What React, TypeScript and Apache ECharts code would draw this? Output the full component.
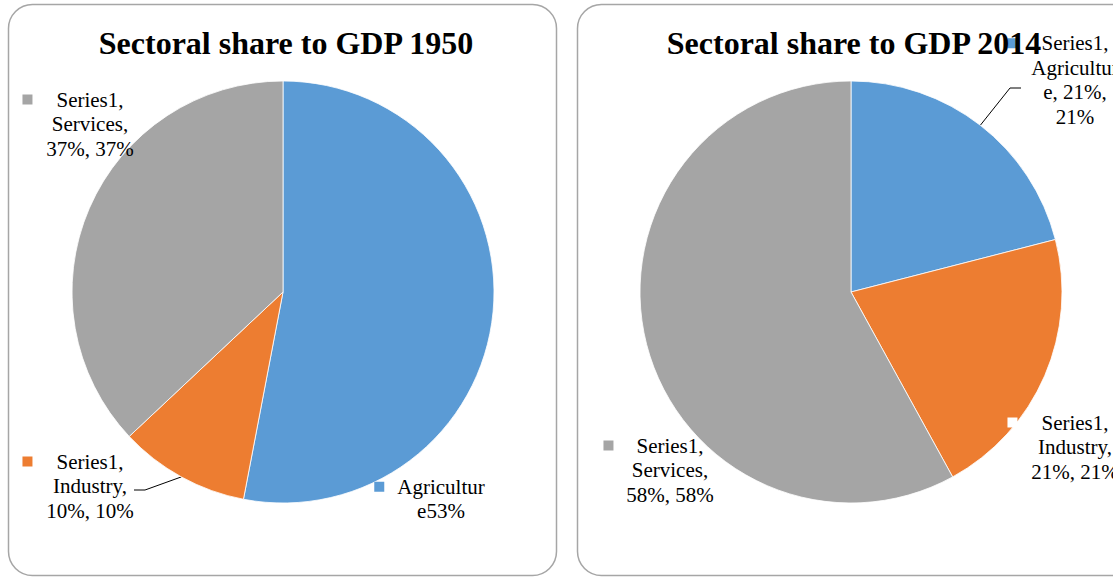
import React, { useEffect, useRef } from "react";
import * as echarts from "echarts";

// ---- data ----
const categories = ["Agriculture", "Industry", "Services"];
const years = ["1950", "2014"];
const share1950 = [53, 10, 37];
const share2014 = [21, 21, 58];
const seriesName = "Series1";
const sliceColors = ["#5B9BD5", "#ED7D31", "#A5A5A5"];
const titlePrefix = "Sectoral share to GDP ";

// data-label lines (as Excel wrapped them)
const labels1950 = [
  [`Agricultur`, `e${share1950[0]}%`],
  [`${seriesName},`, `${categories[1]},`, `${share1950[1]}%, ${share1950[1]}%`],
  [`${seriesName},`, `${categories[2]},`, `${share1950[2]}%, ${share1950[2]}%`],
];
const labels2014 = [
  [`${seriesName},`, `Agricultur`, `e, ${share2014[0]}%,`, `${share2014[0]}%`],
  [`${seriesName},`, `${categories[1]},`, `${share2014[1]}%, ${share2014[1]}%`],
  [`${seriesName},`, `${categories[2]},`, `${share2014[2]}%, ${share2014[2]}%`],
];

// ---- layout (positions / styles) ----
const W = 1113;
const H = 577;
const FONT = "'Liberation Serif', 'Times New Roman', serif";
const pies = [
  { cx: 283, cy: 292, r: 211 },
  { cx: 851, cy: 292, r: 211 },
];
// label block centres relative to pie centre, key gap, key colour override, leader line
const labelPlace = [
  [
    { dx: 158, dy: 207, gap: 13, keyColor: null, line: null },
    { dx: -193, dy: 194, gap: 24, keyColor: null, line: { elbow: [55, 4], end: [44, 4] } },
    { dx: -193, dy: -168, gap: 24, keyColor: null, line: null },
  ],
  [
    { dx: 224, dy: -212, gap: 24, keyColor: null, line: { elbow: [-65, 8], end: [-54, 8] } },
    { dx: 224, dy: 155, gap: 24, keyColor: "#ffffff", line: null },
    { dx: -181, dy: 178, gap: 23, keyColor: null, line: null },
  ],
];

function buildSeries(idx: number, values: number[], labelLines: string[][]) {
  const p = pies[idx];
  const places = labelPlace[idx];
  return {
    type: "pie",
    name: seriesName,
    center: [p.cx, p.cy],
    radius: [0, p.r],
    startAngle: 90,
    clockwise: true,
    avoidLabelOverlap: false,
    silent: true,
    itemStyle: { borderColor: "#ffffff", borderWidth: 0.8 },
    data: values.map((v, i) => {
      const pl = places[i];
      const key = pl.keyColor || sliceColors[i];
      const lines = labelLines[i];
      const first = `{k|}{g|}{t|${lines[0]}}{p|}`;
      const rest = lines.slice(1).map((l) => `{t|${l}}`);
      return {
        name: categories[i],
        value: v,
        itemStyle: { color: sliceColors[i] },
        label: {
          show: true,
          position: "outside",
          formatter: [first, ...rest].join("\n"),
          align: "center",
          rich: {
            k: { width: 10, height: 10, backgroundColor: key, lineHeight: 24.5 },
            g: { width: pl.gap, lineHeight: 24.5 },
            p: { width: 10 + pl.gap, lineHeight: 24.5 },
            t: {
              fontFamily: FONT,
              fontSize: 21,
              color: "#000000",
              lineHeight: 24.5,
              align: "center",
            },
          },
        },
        labelLine: {
          show: !!pl.line,
          lineStyle: { color: "#000000", width: 1 },
        },
      };
    }),
    labelLayout: (params: any) => {
      const pl = places[params.dataIndex];
      const x = p.cx + pl.dx;
      const y = p.cy + pl.dy;
      const out: any = { x, y, align: "center", verticalAlign: "middle" };
      if (pl.line && params.labelLinePoints && params.labelLinePoints.length) {
        const p0 = params.labelLinePoints[0];
        out.labelLinePoints = [
          p0,
          [x + pl.line.elbow[0], y + pl.line.elbow[1]],
          [x + pl.line.end[0], y + pl.line.end[1]],
        ];
      }
      return out;
    },
  };
}

export default function App() {
  const ref = useRef<HTMLDivElement>(null);
  useEffect(() => {
    if (!ref.current) return;
    const chart = echarts.init(ref.current, undefined, { renderer: "svg" });
    chart.setOption({
      animation: false,
      backgroundColor: "#ffffff",
      title: years.map((yr, i) => ({
        text: titlePrefix + yr,
        left: pies[i].cx - 2,
        top: 22,
        textAlign: "center",
        textStyle: {
          fontFamily: FONT,
          fontSize: 32,
          fontWeight: "bold",
          color: "#000000",
        },
      })),
      graphic: [
        {
          type: "rect",
          silent: true,
          z: -1,
          shape: { x: 8.5, y: 4.5, width: 548, height: 571, r: 24 },
          style: { fill: "none", stroke: "#a6a6a6", lineWidth: 1.5 },
        },
        {
          type: "rect",
          silent: true,
          z: -1,
          shape: { x: 577.5, y: 4.5, width: 560, height: 571, r: 24 },
          style: { fill: "none", stroke: "#a6a6a6", lineWidth: 1.5 },
        },
      ],
      series: [
        buildSeries(0, share1950, labels1950),
        buildSeries(1, share2014, labels2014),
      ],
    });
    return () => chart.dispose();
  }, []);
  return (
    <div
      ref={ref}
      style={{ position: "absolute", left: 0, top: 0, width: W, height: H }}
    />
  );
}
